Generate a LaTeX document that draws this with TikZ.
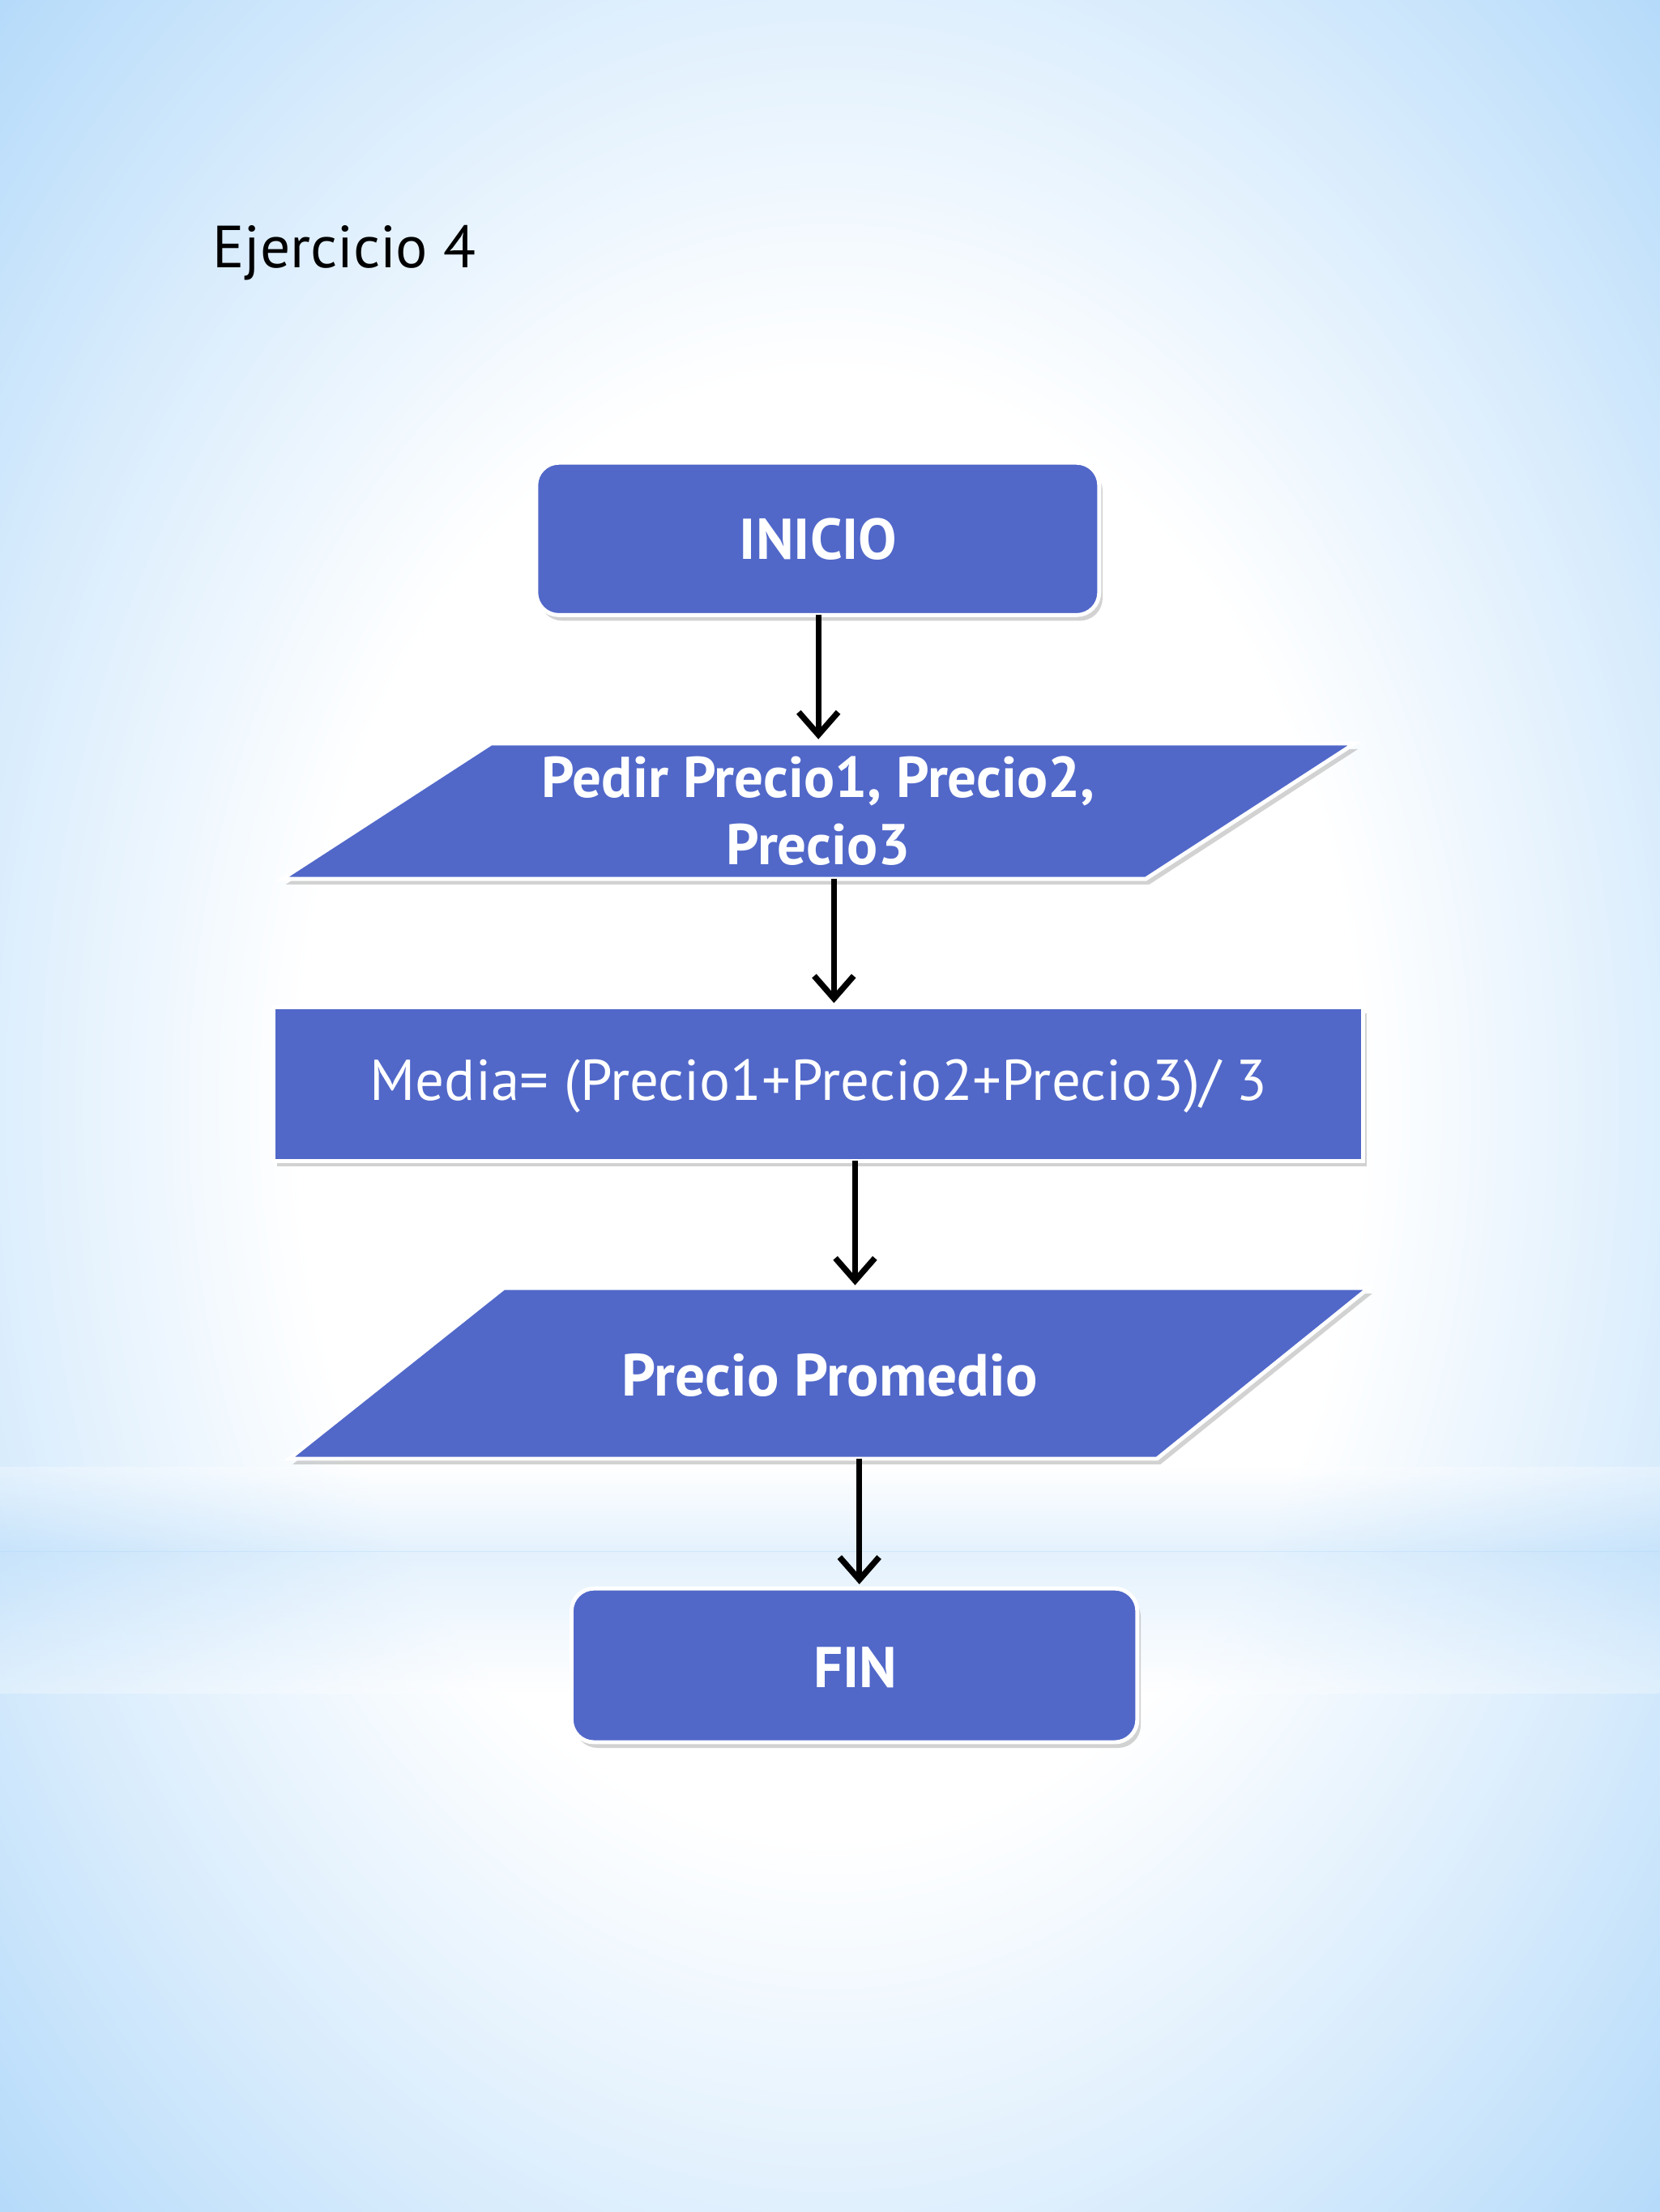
\documentclass[tikz,border=0pt]{standalone}
\usepackage{fontspec}
\setmainfont{PT Sans}
\usetikzlibrary{arrows.meta,shadows}
\definecolor{bgblue}{HTML}{A6D3F9}
\definecolor{boxblue}{HTML}{5168C9}
\pgfdeclareradialshading{bgsh}{\pgfpoint{0bp}{0bp}}{color(0bp)=(white); color(15bp)=(white); color(26bp)=(bgblue!50); color(36bp)=(bgblue); color(80bp)=(bgblue)}
\tikzset{
  shapebox/.style={fill=boxblue,draw=white,line width=4pt,
    drop shadow={opacity=0.35,shadow xshift=0.12cm,shadow yshift=-0.2cm}},
  lbl/.style={text=white,font=\fontsize{58}{64}\selectfont\bfseries,align=center},
  flow/.style={line width=6pt,-{Straight Barb[length=0.8cm,width=1.4cm,line width=6pt]}}
}
\begin{document}
\begin{tikzpicture}[x=0.05cm,y=-0.05cm]
\useasboundingbox (0,0) rectangle (1176,1568);
\shade[shading=bgsh] (-40,-80) rectangle (1216,1648);
\shade[top color=white,bottom color=bgblue,opacity=0.3] (0,1040) rectangle (1176,1100);
\shade[top color=bgblue,bottom color=white,opacity=0.3] (0,1100) rectangle (1176,1200);
\node[anchor=base west,font=\fontsize{60}{66}\selectfont] (title) at (148,190) {Ejercicio 4};
% INICIO
\draw[shapebox,rounded corners=0.8cm] (380,328) rectangle (779,436);
\node[lbl] (ini) at (580,382) {INICIO};
% input
\draw[shapebox] (348,527) -- (960,527) -- (812,623) -- (200,623) -- cycle;
\node[lbl,font=\fontsize{58}{68}\selectfont\bfseries] (in) at (580,575) {Pedir Precio1, Precio2,\\Precio3};
% process
\draw[shapebox] (194,714) rectangle (966,823);
\node[lbl,font=\fontsize{58}{64}\selectfont] (proc) at (580,770) {Media= (Precio1+Precio2+Precio3)/ 3};
% output
\draw[shapebox] (357,913) -- (970,913) -- (820,1034) -- (205,1034) -- cycle;
\node[lbl,font=\fontsize{60}{66}\selectfont\bfseries] (out) at (588,975) {Precio Promedio};
% FIN
\draw[shapebox,rounded corners=0.8cm] (405,1126) rectangle (806,1235);
\node[lbl] (fin) at (606,1182) {FIN};
% connectors
\coordinate (a1) at (580,436); \coordinate (b1) at (580,524);
\coordinate (a2) at (591,623); \coordinate (b2) at (591,711);
\coordinate (a3) at (606,823); \coordinate (b3) at (606,911);
\coordinate (a4) at (609,1034); \coordinate (b4) at (609,1123);
\draw[flow] (a1) -- (b1);
\draw[flow] (a2) -- (b2);
\draw[flow] (a3) -- (b3);
\draw[flow] (a4) -- (b4);
\end{tikzpicture}
\end{document}
